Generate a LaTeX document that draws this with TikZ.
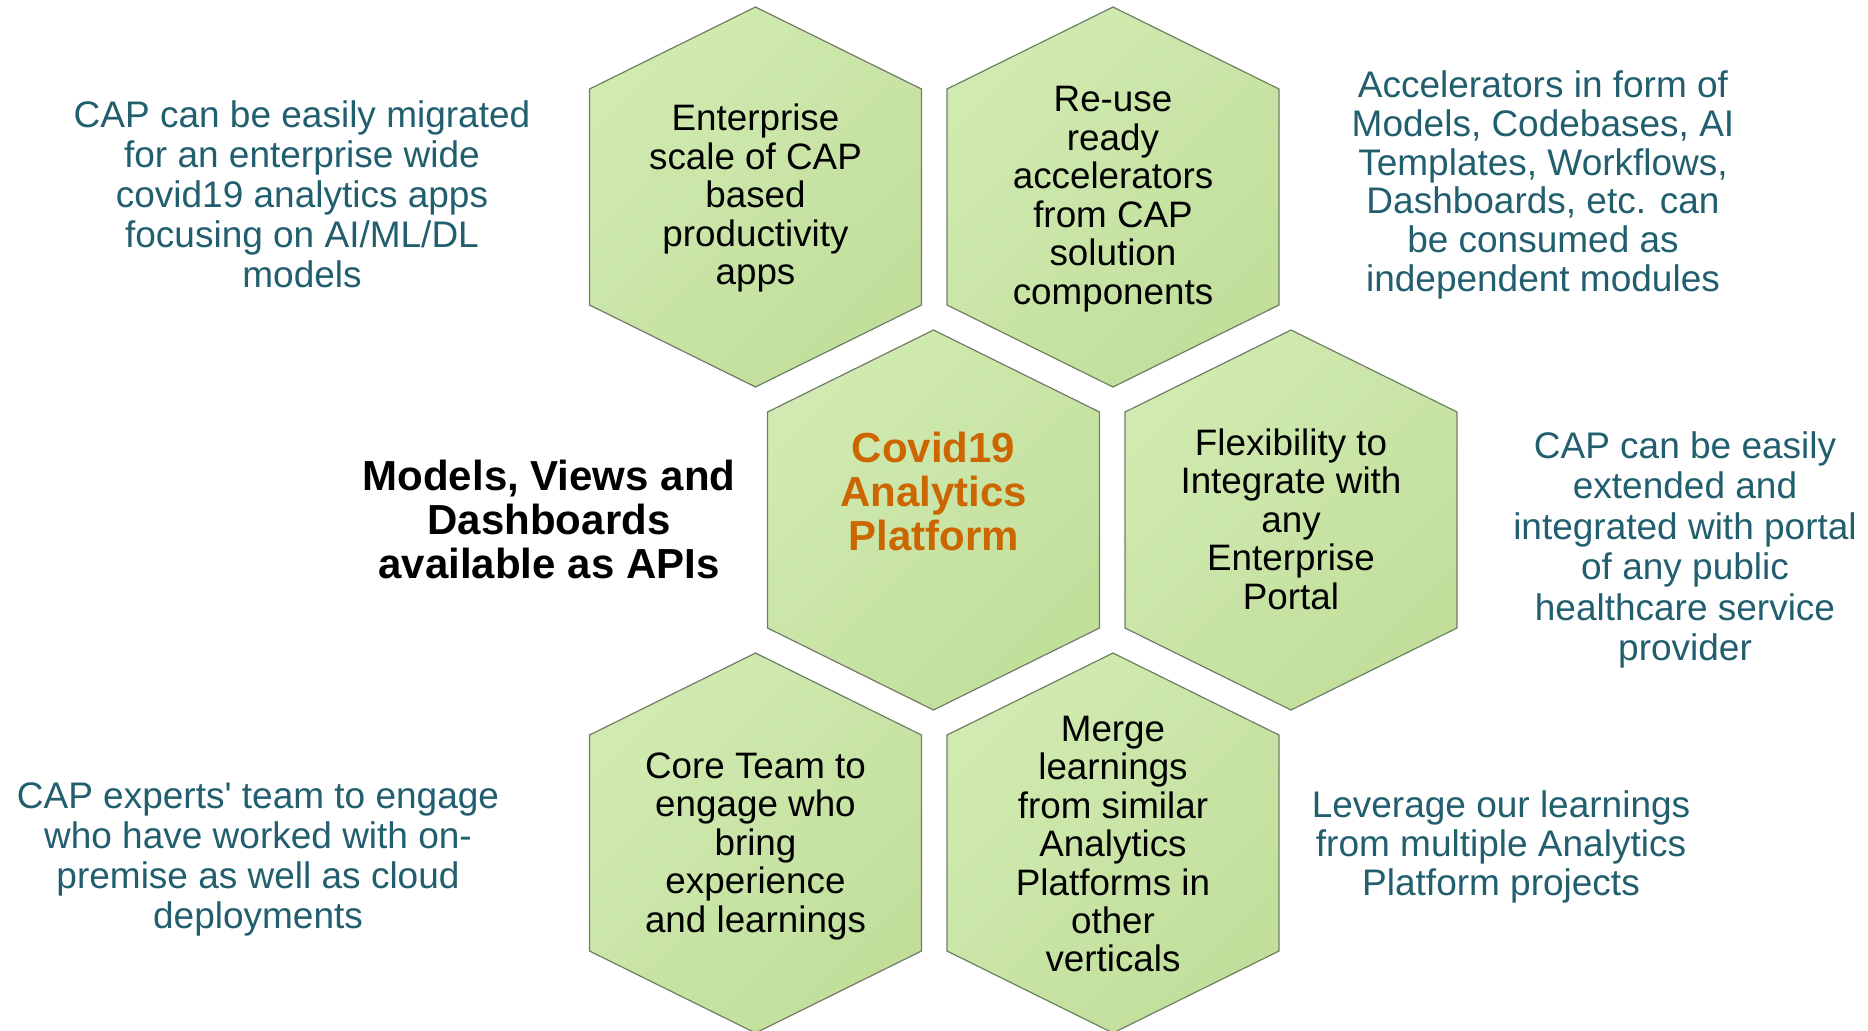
\documentclass[tikz,border=0pt]{standalone}
\usepackage{fontspec}
\setmainfont{Liberation Sans}

\definecolor{hexlight}{RGB}{209,234,177}
\definecolor{hexdark}{RGB}{193,223,155}
\definecolor{hexline}{RGB}{112,126,100}
\definecolor{noteteal}{RGB}{33,94,110}
\definecolor{titleorange}{RGB}{204,102,0}

\begin{document}
\begin{tikzpicture}[
  x=0.5pt, y=-0.5pt,
  hexbody/.style={draw=hexline, line width=0.6pt, top color=hexlight, bottom color=hexdark, shading angle=45},
  hexcell/.style={align=center, font=\fontsize{18.4}{19.25}\selectfont},
  note/.style={align=center, text=noteteal, font=\fontsize{18.5}{20}\selectfont},
  tightnote/.style={note, font=\fontsize{18.5}{19.4}\selectfont},
  headline/.style={align=center, font=\bfseries\fontsize{21}{22}\selectfont},
  hexagon/.pic={\path[hexbody] (0,-190) -- (166,-108) -- (166,108) -- (0,190) -- (-166,108) -- (-166,-108) -- cycle;}
]
\useasboundingbox (0,0) rectangle (1868,1030);

% Honeycomb
\pic at (755.5,197) {hexagon};
\pic at (1113,197) {hexagon};
\pic at (933.5,520) {hexagon};
\pic at (1291,520) {hexagon};
\pic at (755.5,843) {hexagon};
\pic at (1113,843) {hexagon};

\node[hexcell] (scale) at (755.5,198) {Enterprise\\scale of CAP\\based\\productivity\\apps};
\node[hexcell] (reuse) at (1113,199) {Re-use\\ready\\accelerators\\from CAP\\solution\\components};
\node[headline, text=titleorange] (platform) at (933.5,491) {Covid19\\Analytics\\Platform};
\node[hexcell] (portal) at (1291,519) {Flexibility to\\Integrate with\\any\\Enterprise\\Portal};
\node[hexcell] (team) at (755.5,846) {Core Team to\\engage who\\bring\\experience\\and learnings};
\node[hexcell] (merge) at (1113,844) {Merge\\learnings\\from similar\\Analytics\\Platforms in\\other\\verticals};

% Side notes
\node[headline] (apis) at (549,519) {Models, Views and\\Dashboards\\available as APIs};
\node[note] (migrate) at (302,194) {CAP can be easily migrated\\for an enterprise wide\\covid19 analytics apps\\focusing on AI/ML/DL\\models};
\node[tightnote] (modules) at (1543,185) {Accelerators in form of\\Models, Codebases, AI\\Templates, Workflows,\\Dashboards, etc. can\\be consumed as\\independent modules};
\node[note, font=\fontsize{18.5}{20.25}\selectfont] (extend) at (1685,550) {CAP can be easily\\extended and\\integrated with portal\\of any public\\healthcare service\\provider};
\node[note] (experts) at (258,859) {CAP experts\textquotesingle\ team to engage\\who have worked with on-\\premise as well as cloud\\deployments};
\node[tightnote] (leverage) at (1501,847) {Leverage our learnings\\from multiple Analytics\\Platform projects};

\end{tikzpicture}
\end{document}
